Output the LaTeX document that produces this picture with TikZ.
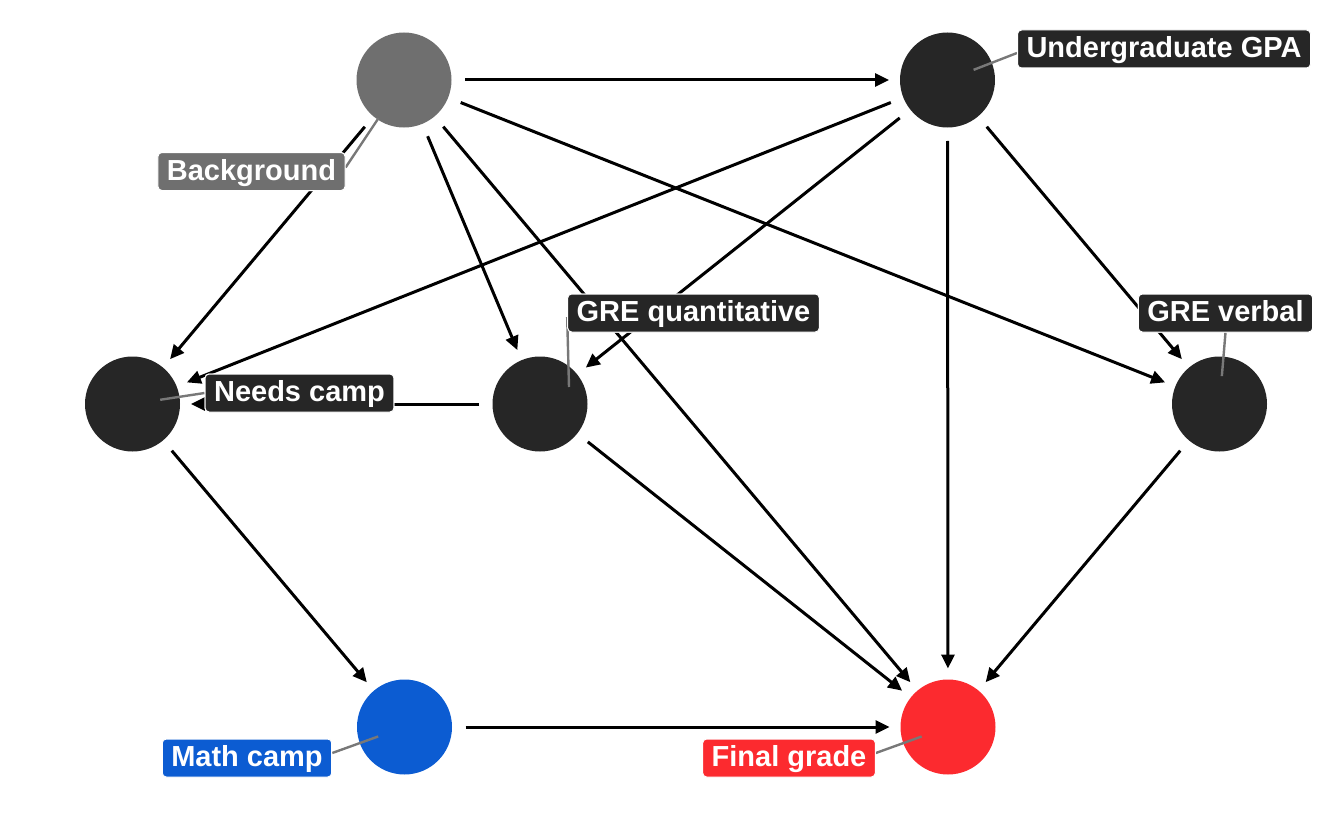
\documentclass[tikz,border=0pt]{standalone}
\usepackage{fontspec}
\setmainfont{Liberation Sans}
\usetikzlibrary{arrows.meta,calc}
\definecolor{cgray}{RGB}{111,111,111}
\definecolor{cdark}{RGB}{38,38,38}
\definecolor{cblue}{RGB}{12,92,210}
\definecolor{cred}{RGB}{252,42,47}
\definecolor{cseg}{RGB}{120,120,120}
\tikzset{
  dagnode/.style={circle,minimum size=95pt,inner sep=0pt,outer sep=0pt,draw=none},
  edge/.style={line width=3pt,black,-{Triangle[length=14pt,width=13pt]},shorten <=13.5pt,shorten >=11pt},
  seg/.style={line width=2.4pt,cseg},
  lab/.style={rounded corners=4pt,draw=white,line width=1pt,text=white,
    font=\fontsize{29}{29}\selectfont\bfseries,inner xsep=9pt,inner ysep=4.5pt,
    text height=23pt,text depth=6pt}
}
\begin{document}
\begin{tikzpicture}[x=1pt,y=-1pt]
\useasboundingbox (0,0) rectangle (1344,816);
% nodes
\node[dagnode,fill=cgray] (bg) at (404,80) {};
\node[dagnode,fill=cdark] (gpa) at (947.5,80) {};
\node[dagnode,fill=cdark] (nc) at (132.5,404) {};
\node[dagnode,fill=cdark] (gq) at (540,404) {};
\node[dagnode,fill=cdark] (gv) at (1219.5,404) {};
\node[dagnode,fill=cblue] (mc) at (404.5,727) {};
\node[dagnode,fill=cred] (fg) at (948,727) {};
% edges
\draw[edge] (bg) -- (gpa);
\draw[edge] (bg) -- (nc);
\draw[edge] (bg) -- (gq);
\draw[edge] (bg) -- (gv);
\draw[edge] (bg) -- (fg);
\draw[edge] (gpa) -- (nc);
\draw[edge] (gpa) -- (gq);
\draw[edge] (gpa) -- (gv);
\draw[edge] (gpa) -- (fg);
\draw[edge] (gq) -- (nc);
\draw[edge] (gq) -- (fg);
\draw[edge] (gv) -- (fg);
\draw[edge] (nc) -- (mc);
\draw[edge] (mc) -- (fg);
% label boxes (placed, drawn after segments)
\path
  node[lab,fill=cgray] (bgl) at (251.5,171.5) {Background}
  node[lab,fill=cdark] (gpal) at (1164,49) {Undergraduate GPA}
  node[lab,fill=cdark] (ncl) at (299.5,393) {Needs camp}
  node[lab,fill=cdark] (gql) at (693.5,313) {GRE quantitative}
  node[lab,fill=cdark] (gvl) at (1225.5,313) {GRE verbal}
  node[lab,fill=cblue] (mcl) at (247,758) {Math camp}
  node[lab,fill=cred] (fgl) at (789,758) {Final grade};
% segments
\coordinate (bge) at ($(bgl.east)+(0,-4)$);
\coordinate (gpae) at ($(gpal.west)+(0,4)$);
\coordinate (gqe) at ($(gql.west)+(0,4)$);
\coordinate (gqs) at ($(gq)+(29,-17)$);
\coordinate (mce) at ($(mcl.east)+(0,-5)$);
\coordinate (fge) at ($(fgl.east)+(0,-5)$);
\draw[seg] ($(bg)!46pt!(bge)$) -- (bge);
\draw[seg] ($(gpa)!28pt!(gpae)$) -- (gpae);
\draw[seg] ($(nc)!28pt!(ncl.west)$) -- (ncl.west);
\draw[seg] (gqs) -- (gqe);
\draw[seg] ($(gv)!28pt!(gvl.south)$) -- (gvl.south);
\draw[seg] ($(mc)!28pt!(mce)$) -- (mce);
\draw[seg] ($(fg)!28pt!(fge)$) -- (fge);
% redraw labels on top
\node[lab,fill=cgray] at (bgl) {Background};
\node[lab,fill=cdark] at (gpal) {Undergraduate GPA};
\node[lab,fill=cdark] at (ncl) {Needs camp};
\node[lab,fill=cdark] at (gql) {GRE quantitative};
\node[lab,fill=cdark] at (gvl) {GRE verbal};
\node[lab,fill=cblue] at (mcl) {Math camp};
\node[lab,fill=cred] at (fgl) {Final grade};
\end{tikzpicture}
\end{document}
